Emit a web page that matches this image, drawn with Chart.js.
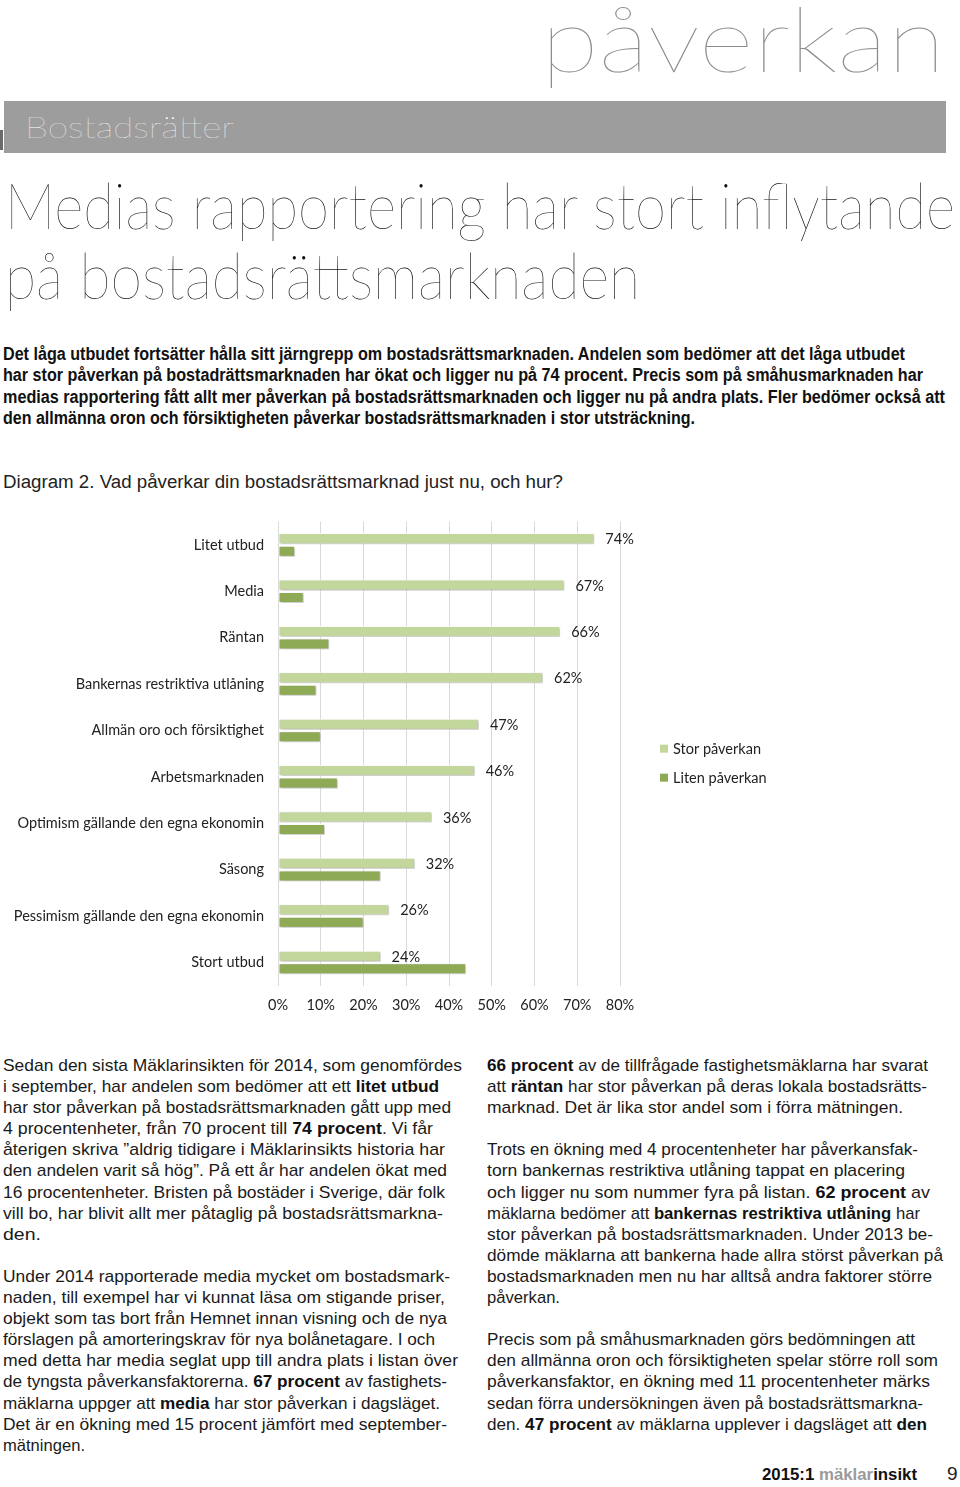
<!DOCTYPE html>
<html lang="sv">
<head>
<meta charset="utf-8">
<title>Medias rapportering har stort inflytande på bostadsrättsmarknaden</title>
<script src="https://cdn.jsdelivr.net/npm/chart.js@4.4.1/dist/chart.umd.min.js"></script>
<style>
  html, body { margin: 0; padding: 0; background: #fff; }
  body { width: 960px; height: 1487px; position: relative; overflow: hidden; }
  .abs { position: absolute; white-space: nowrap; }
  .fit { display: inline-block; white-space: nowrap; transform-origin: 0 50%; }
  .thin { font-family: Lato, "Open Sans", sans-serif; font-weight: 200; }
  .lead { font-family: "Liberation Sans Narrow", "Liberation Sans", sans-serif; font-weight: bold;
          font-size: 18px; line-height: 21.3px; color: #111; }
  .body { font-family: "Liberation Sans", Arial, sans-serif; font-size: 17px; line-height: 21.1px; color: #1a1a1a; }
  .body b { font-weight: bold; color: #111; }
</style>
</head>
<body>

<div class="abs thin" style="left:541px; top:-8px; font-size:90px; line-height:90px; color:#8c8c8c;">
  <span class="fit" data-w="404">påverkan</span>
</div>

<div class="abs" style="left:4px; top:101px; width:942px; height:52px; background:#9d9d9e;"></div>
<div class="abs" style="left:0; top:130px; width:3px; height:20px; background:#6b6b6b;"></div>
<div class="abs thin" style="left:25px; top:111px; font-size:30px; line-height:30px; color:#fff;">
  <span class="fit" data-w="209">Bostadsrätter</span>
</div>

<div class="abs thin" style="left:5px; top:173px; font-size:64px; line-height:64px; color:#111;">
  <span class="fit" data-w="950">Medias rapportering har stort inflytande</span>
</div>
<div class="abs thin" style="left:5px; top:243px; font-size:64px; line-height:64px; color:#111;">
  <span class="fit" data-w="635">på bostadsrättsmarknaden</span>
</div>

<div class="abs lead" style="left:3px; top:344px;">
  <span class="fit" data-w="902">Det låga utbudet fortsätter hålla sitt järngrepp om bostadsrättsmarknaden. Andelen som bedömer att det låga utbudet</span><br>
  <span class="fit" data-w="920">har stor påverkan på bostadrättsmarknaden har ökat och ligger nu på 74 procent. Precis som på småhusmarknaden har</span><br>
  <span class="fit" data-w="942">medias rapportering fått allt mer påverkan på bostadsrättsmarknaden och ligger nu på andra plats. Fler bedömer också att</span><br>
  <span class="fit" data-w="692">den allmänna oron och försiktigheten påverkar bostadsrättsmarknaden i stor utsträckning.</span>
</div>

<div class="abs" style="left:3px; top:472px; font-family:'Liberation Sans Narrow','Liberation Sans',sans-serif; font-size:18px; line-height:21.3px; color:#222;">
  <span class="fit" data-w="560">Diagram 2. Vad påverkar din bostadsrättsmarknad just nu, och hur?</span>
</div>

<div class="abs" style="left:0; top:499px; width:960px; height:526px;">
  <canvas id="chart"></canvas>
</div>

<div class="abs body" style="left:3px; top:1055px;">
  <span class="fit" data-w="459">Sedan den sista Mäklarinsikten för 2014, som genomfördes</span><br>
  <span class="fit" data-w="436">i september, har andelen som bedömer att ett <b>litet utbud</b></span><br>
  <span class="fit" data-w="448">har stor påverkan på bostadsrättsmarknaden gått upp med</span><br>
  <span class="fit" data-w="430">4 procentenheter, från 70 procent till <b>74 procent</b>. Vi får</span><br>
  <span class="fit" data-w="442">återigen skriva ”aldrig tidigare i Mäklarinsikts historia har</span><br>
  <span class="fit" data-w="444">den andelen varit så hög”. På ett år har andelen ökat med</span><br>
  <span class="fit" data-w="442">16 procentenheter. Bristen på bostäder i Sverige, där folk</span><br>
  <span class="fit" data-w="440">vill bo, har blivit allt mer påtaglig på bostadsrättsmarkna-</span><br>
  <span class="fit" data-w="38">den.</span><br>
  <br>
  <span class="fit" data-w="447">Under 2014 rapporterade media mycket om bostadsmark-</span><br>
  <span class="fit" data-w="442">naden, till exempel har vi kunnat läsa om stigande priser,</span><br>
  <span class="fit" data-w="444">objekt som tas bort från Hemnet innan visning och de nya</span><br>
  <span class="fit" data-w="432">förslagen på amorteringskrav för nya bolånetagare. I och</span><br>
  <span class="fit" data-w="455">med detta har media seglat upp till andra plats i listan över</span><br>
  <span class="fit" data-w="444">de tyngsta påverkansfaktorerna. <b>67 procent</b> av fastighets-</span><br>
  <span class="fit" data-w="437">mäklarna uppger att <b>media</b> har stor påverkan i dagsläget.</span><br>
  <span class="fit" data-w="444">Det är en ökning med 15 procent jämfört med september-</span><br>
  <span class="fit" data-w="82">mätningen.</span>
</div>

<div class="abs body" style="left:487px; top:1055px;">
  <span class="fit" data-w="441"><b>66 procent</b> av de tillfrågade fastighetsmäklarna har svarat</span><br>
  <span class="fit" data-w="440">att <b>räntan</b> har stor påverkan på deras lokala bostadsrätts-</span><br>
  <span class="fit" data-w="416">marknad. Det är lika stor andel som i förra mätningen.</span><br>
  <br>
  <span class="fit" data-w="431">Trots en ökning med 4 procentenheter har påverkansfak-</span><br>
  <span class="fit" data-w="418">torn bankernas restriktiva utlåning tappat en placering</span><br>
  <span class="fit" data-w="443">och ligger nu som nummer fyra på listan. <b>62 procent</b> av</span><br>
  <span class="fit" data-w="433">mäklarna bedömer att <b>bankernas restriktiva utlåning</b> har</span><br>
  <span class="fit" data-w="446">stor påverkan på bostadsrättsmarknaden. Under 2013 be-</span><br>
  <span class="fit" data-w="456">dömde mäklarna att bankerna hade allra störst påverkan på</span><br>
  <span class="fit" data-w="445">bostadsmarknaden men nu har alltså andra faktorer större</span><br>
  <span class="fit" data-w="73">påverkan.</span><br>
  <br>
  <span class="fit" data-w="428">Precis som på småhusmarknaden görs bedömningen att</span><br>
  <span class="fit" data-w="451">den allmänna oron och försiktigheten spelar större roll som</span><br>
  <span class="fit" data-w="443">påverkansfaktor, en ökning med 11 procentenheter märks</span><br>
  <span class="fit" data-w="436">sedan förra undersökningen även på bostadsrättsmarkna-</span><br>
  <span class="fit" data-w="440">den. <b>47 procent</b> av mäklarna upplever i dagsläget att <b>den</b></span>
</div>

<div class="abs" style="left:762px; top:1464px; font-family:'Liberation Sans',Arial,sans-serif; font-weight:bold; font-size:17px; line-height:21px; color:#111;">
  <span class="fit" data-w="155">2015:1 <span style="color:#9a9a9a">mäklar</span>insikt</span>
</div>
<div class="abs" style="left:947px; top:1463px; font-family:'Liberation Sans',Arial,sans-serif; font-size:19px; line-height:22px; color:#222;">9</div>

<script>
// data
const categories = [
  'Litet utbud',
  'Media',
  'Räntan',
  'Bankernas restriktiva utlåning',
  'Allmän oro och försiktighet',
  'Arbetsmarknaden',
  'Optimism gällande den egna ekonomin',
  'Säsong',
  'Pessimism gällande den egna ekonomin',
  'Stort utbud'
];
const storPaverkan = [74, 67, 66, 62, 47, 46, 36, 32, 26, 24];
const litenPaverkan = [4, 6, 12, 9, 10, 14, 11, 24, 20, 44];
const seriesNames = ['Stor påverkan', 'Liten påverkan'];
const seriesColors = ['#c3d69b', '#8eaa55'];
const xMin = 0;
const xMax = 80;
const xStep = 10;

const fontFamily = 'Lato, "Open Sans", sans-serif';
const labelFont = '14.5px ' + fontFamily;

// shadows on the bars, value labels and the legend at the right
const barExtras = {
  id: 'barExtras',
  beforeDatasetsDraw(chart) {
    const ctx = chart.ctx;
    ctx.save();
    ctx.shadowColor = 'rgba(0,0,0,0.28)';
    ctx.shadowBlur = 2;
    ctx.shadowOffsetX = 1;
    ctx.shadowOffsetY = 1;
  },
  afterDatasetsDraw(chart) {
    const ctx = chart.ctx;
    ctx.restore();

    // percent labels after the "Stor påverkan" bars
    const meta = chart.getDatasetMeta(0);
    ctx.save();
    ctx.font = labelFont;
    ctx.fillStyle = '#222';
    ctx.textBaseline = 'middle';
    ctx.textAlign = 'left';
    meta.data.forEach((bar, i) => {
      ctx.fillText(chart.data.datasets[0].data[i] + '%', bar.x + 11, bar.y + 1);
    });

    // legend
    const area = chart.chartArea;
    const lx = area.right + 40;
    const ly = (area.top + area.bottom) / 2 - 5;
    chart.data.datasets.forEach((ds, i) => {
      const y = ly + i * 29;
      ctx.fillStyle = ds.backgroundColor;
      ctx.fillRect(lx, y - 4, 8, 8);
      ctx.fillStyle = '#222';
      ctx.fillText(ds.label, lx + 13, y + 1);
    });
    ctx.restore();
  }
};

new Chart('chart', {
  type: 'bar',
  data: {
    labels: categories,
    datasets: [
      {
        label: seriesNames[0],
        data: storPaverkan,
        backgroundColor: seriesColors[0],
        borderColor: '#ffffff',
        borderWidth: 1,
        borderSkipped: false,
        categoryPercentage: 0.54,
        barPercentage: 0.88
      },
      {
        label: seriesNames[1],
        data: litenPaverkan,
        backgroundColor: seriesColors[1],
        borderColor: '#ffffff',
        borderWidth: 1,
        borderSkipped: false,
        categoryPercentage: 0.54,
        barPercentage: 0.88
      }
    ]
  },
  options: {
    indexAxis: 'y',
    responsive: true,
    maintainAspectRatio: false,
    animation: false,
    layout: {
      padding: { top: 0, right: 340, bottom: 0, left: 0 }
    },
    plugins: {
      legend: { display: false },
      tooltip: { enabled: false }
    },
    scales: {
      x: {
        min: xMin,
        max: xMax,
        grid: { color: '#d9d9d9', lineWidth: 1, drawTicks: false },
        border: { display: false },
        ticks: {
          stepSize: xStep,
          padding: 11,
          color: '#222',
          font: { family: fontFamily, size: 14.5 },
          callback: (v) => v + '%'
        }
      },
      y: {
        grid: { display: false, drawTicks: false },
        border: { display: false },
        ticks: {
          padding: 14,
          color: '#222',
          font: { family: fontFamily, size: 14.5 }
        },
        afterFit(scale) {
          scale.width = 278;
        }
      }
    }
  },
  plugins: [barExtras]
});

// squeeze text lines to the widths of the printed page
function fitLines() {
  document.querySelectorAll('.fit').forEach((el) => {
    const target = parseFloat(el.dataset.w);
    el.style.transform = 'none';
    const w = el.getBoundingClientRect().width;
    if (w > 0) el.style.transform = 'scaleX(' + (target / w) + ')';
  });
}
fitLines();
if (document.fonts && document.fonts.ready) document.fonts.ready.then(fitLines);
</script>
</body>
</html>
